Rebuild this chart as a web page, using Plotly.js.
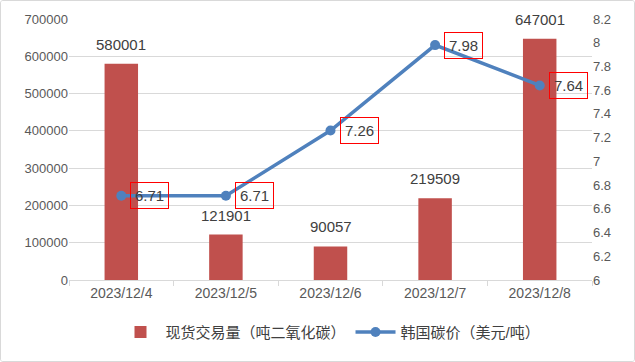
<!DOCTYPE html>
<html><head><meta charset="utf-8">
<script src="https://cdn.plot.ly/plotly-3.0.1.min.js"></script>
<style>html,body{margin:0;padding:0;background:#fff}#wrap{width:633px;height:360px;border:1px solid #d9d9d9;border-radius:3px;overflow:hidden}#chart{width:633px;height:360px}</style>
</head><body><div id="wrap"><div id="chart"></div></div>
<script>
const categories = ["2023/12/4","2023/12/5","2023/12/6","2023/12/7","2023/12/8"];
const volume = [580001,121901,90057,219509,647001];
const price = [6.71,6.71,7.26,7.98,7.64];
const volumeName = "现货交易量（吨二氧化碳）";
const priceName = "韩国碳价（美元/吨）";
const leftTicks = [0,100000,200000,300000,400000,500000,600000,700000];
const rightTicks = [6,6.2,6.4,6.6,6.8,7,7.2,7.4,7.6,7.8,8,8.2];

const font = "Liberation Sans, Noto Sans CJK SC, sans-serif";
const traces = [
  {type:"bar", x:categories, y:volume, name:volumeName, marker:{color:"#C0504D"},
   cliponaxis:false, yaxis:"y"},
  {type:"scatter", mode:"lines+markers", x:categories, y:price, name:priceName, yaxis:"y2",
   line:{color:"#4F81BD", width:3.5}, marker:{color:"#4F81BD", size:10}}
];
const barLabels = volume.map((v,i)=>({x:categories[i], y:v, xref:"x", yref:"y", text:String(v),
  showarrow:false, xanchor:"center", yanchor:"bottom", yshift:9,
  font:{size:15,color:"#404040",family:font}}));
const priceLabels = price.map((p,i)=>({x:categories[i], y:p, xref:"x", yref:"y2", text:p.toFixed(2),
  showarrow:false, xanchor:"left", yanchor:"middle", xshift:9, bordercolor:"#FF0000", borderwidth:1,
  borderpad:4, bgcolor:"rgba(255,255,255,0)", font:{size:15,color:"#404040",family:font}}));

const layout = {
  width:633, height:360, margin:{l:68, r:42, t:18, b:78},
  paper_bgcolor:"#fff", plot_bgcolor:"#fff", font:{family:font, color:"#595959"},
  bargap:0.68, showlegend:true,
  legend:{orientation:"h", x:0.5, xanchor:"center", y:-0.2, yanchor:"middle", itemwidth:40,
    font:{size:15,color:"#404040"}, traceorder:"normal"},
  xaxis:{type:"category", showline:true, linecolor:"#d9d9d9", ticks:"outside", tickson:"boundaries",
    ticklen:5, tickcolor:"#d9d9d9", tickfont:{size:14,color:"#595959"}, showgrid:false},
  yaxis:{range:[0,700000], tickvals:leftTicks, ticktext:leftTicks.map(String), showgrid:true, gridcolor:"#d9d9d9",
    zeroline:false, tickfont:{size:13,color:"#595959"}, ticks:"", showline:false},
  yaxis2:{overlaying:"y", side:"right", range:[6,8.2], tickvals:rightTicks, ticktext:rightTicks.map(String),
    showgrid:false, zeroline:false, tickfont:{size:13,color:"#595959"}, showline:false},
  annotations:barLabels.concat(priceLabels)
};
Plotly.newPlot("chart", traces, layout, {displayModeBar:false, staticPlot:true});
</script></body></html>
